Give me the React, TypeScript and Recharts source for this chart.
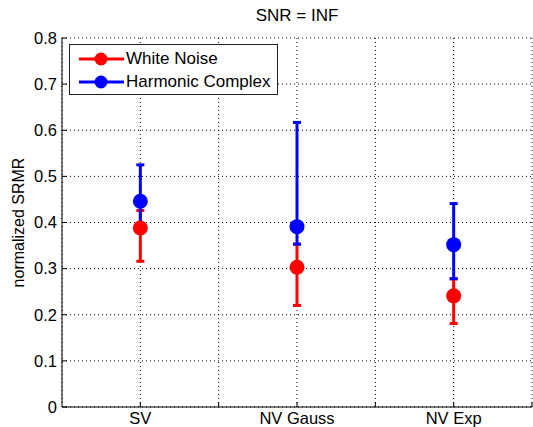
import React from "react";
import { ComposedChart, Line, ErrorBar, XAxis, YAxis, CartesianGrid } from "recharts";

const categories = ["SV", "NV Gauss", "NV Exp"];
const positions = [1, 2, 3];
const xTicks = [1, 1.5, 2, 2.5, 3, 3.5];
const yTicks = [0, 0.1, 0.2, 0.3, 0.4, 0.5, 0.6, 0.7, 0.8];

// mean and [lower, upper] error per category
const whiteNoise = [0.388, 0.303, 0.241];
const whiteNoiseErr = [[0.072, 0.038], [0.083, 0.05], [0.06, 0.037]];
const harmonic = [0.446, 0.391, 0.352];
const harmonicErr = [[0.056, 0.079], [0.038, 0.226], [0.074, 0.089]];

const series = [
  { name: "White Noise", color: "#ff0000" },
  { name: "Harmonic Complex", color: "#0000ff" },
];

const FONT = "'Liberation Sans', Arial, sans-serif";
const TICK_SIZE = 16.5;

const data = positions.map((x, i) => ({
  x,
  wn: whiteNoise[i],
  wnErr: whiteNoiseErr[i],
  hc: harmonic[i],
  hcErr: harmonicErr[i],
}));

function LegendBox() {
  return (
    <div
      style={{
        position: "absolute",
        left: 69,
        top: 44,
        width: 207,
        height: 49,
        border: "1px solid #222",
        background: "#fff",
      }}
    >
      {series.map((s, i) => (
        <div key={s.name} style={{ position: "absolute", left: 8, top: 3 + i * 22.5, height: 22, display: "flex", alignItems: "center" }}>
          <svg width={48} height={22}>
            <line x1={1} y1={11} x2={46} y2={11} stroke={s.color} strokeWidth={3} />
            <circle cx={23} cy={11} r={6.5} fill={s.color} />
          </svg>
          <span style={{ fontSize: 17, color: "#000", marginLeft: 0, fontFamily: FONT, whiteSpace: "nowrap" }}>{s.name}</span>
        </div>
      ))}
    </div>
  );
}

export default function App() {
  return (
    <div style={{ position: "absolute", left: 0, top: 0, width: 533, height: 427, background: "#fff", fontFamily: FONT }}>
      <div style={{ position: "absolute", left: 62, width: 470, top: 6, textAlign: "center", fontSize: 17, color: "#000" }}>
        SNR = INF
      </div>
      <ComposedChart width={533} height={427} data={data} margin={{ top: 38, right: 1, bottom: 0, left: 0 }}>
        <CartesianGrid stroke="#000" strokeDasharray="1 3" />
        <XAxis
          type="number"
          dataKey="x"
          domain={[0.5, 3.5]}
          ticks={xTicks}
          allowDataOverflow
          height={20}
          tickSize={-5}
          tickMargin={10}
          interval={0}
          tickFormatter={(v: number) => (Number.isInteger(v) ? categories[v - 1] : "")}
          axisLine={{ stroke: "#000", strokeWidth: 1 }}
          tickLine={{ stroke: "#000" }}
          tick={{ fill: "#000", fontSize: TICK_SIZE, fontFamily: FONT }}
        />
        <YAxis
          type="number"
          domain={[0, 0.8]}
          ticks={yTicks}
          width={62}
          tickSize={-5}
          tickMargin={10}
          interval={0}
          tickFormatter={(v: number) => String(Math.round(v * 10) / 10)}
          axisLine={{ stroke: "#000", strokeWidth: 1 }}
          tickLine={{ stroke: "#000" }}
          tick={{ fill: "#000", fontSize: TICK_SIZE, fontFamily: FONT }}
          label={{
            content: (props: any) => {
              const vb = props.viewBox || {};
              const cx = 18;
              const cy = (vb.y || 0) + (vb.height || 0) / 2;
              return (
                <text x={cx} y={cy} transform={`rotate(-90 ${cx} ${cy})`} textAnchor="middle" dominantBaseline="central" fontSize={16} fontFamily={FONT} fill="#000">
                  normalized SRMR
                </text>
              );
            },
          }}
        />
        <Line dataKey="wn" stroke="none" isAnimationActive={false} activeDot={false} dot={{ r: 7.5, fill: "#ff0000", stroke: "none" }}>
          <ErrorBar dataKey="wnErr" direction="y" stroke="#ff0000" strokeWidth={3} width={4} />
        </Line>
        <Line dataKey="hc" stroke="none" isAnimationActive={false} activeDot={false} dot={{ r: 7.5, fill: "#0000ff", stroke: "none" }}>
          <ErrorBar dataKey="hcErr" direction="y" stroke="#0000ff" strokeWidth={3} width={4} />
        </Line>
      </ComposedChart>
      <LegendBox />
    </div>
  );
}
